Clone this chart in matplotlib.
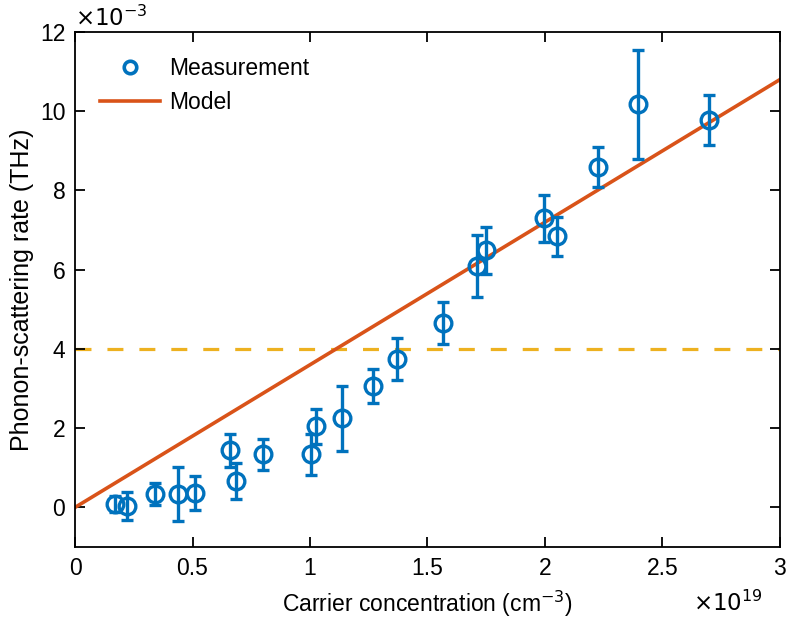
import matplotlib.pyplot as plt
from matplotlib.lines import Line2D
import numpy as np

plt.rcParams["font.family"] = ["Liberation Sans", "DejaVu Sans"]

# carrier concentration (x1e19 cm^-3), scattering rate (x1e-3 THz), error (x1e-3 THz)
conc = [0.17, 0.22, 0.34, 0.44, 0.51, 0.66, 0.685, 0.80, 1.005, 1.025, 1.135,
        1.27, 1.37, 1.565, 1.71, 1.75, 1.995, 2.05, 2.225, 2.395, 2.70]
rate = [0.08, 0.03, 0.33, 0.33, 0.36, 1.44, 0.66, 1.34, 1.34, 2.05, 2.25,
        3.06, 3.74, 4.65, 6.09, 6.49, 7.30, 6.84, 8.59, 10.17, 9.78]
err = [0.2, 0.35, 0.28, 0.68, 0.42, 0.41, 0.46, 0.39, 0.52, 0.44, 0.82,
       0.43, 0.53, 0.53, 0.78, 0.59, 0.59, 0.49, 0.5, 1.38, 0.62]

model_x = [0, 3]
model_slope = 3.6
threshold = 4

blue = "#0072BD"
orange = "#D95319"
yellow = "#EDB120"

fs = 16.5

fig = plt.figure(figsize=(7.88, 6.19), dpi=100)
ax = fig.add_axes([0.0952, 0.1163, 0.8946, 0.8320])

ax.axhline(threshold, color=yellow, lw=2.3, ls=(0, (5, 5)), zorder=1)
ax.plot(model_x, [model_slope * v for v in model_x], color=orange, lw=2.6,
        zorder=2)
ax.errorbar(conc, rate, yerr=err, fmt="o", color=blue, mfc="none", ms=12,
            mew=2.4, elinewidth=2.4, capsize=4.5, capthick=2.4, zorder=3)

ax.set_xlim(0, 3)
ax.set_ylim(-1, 12)
ax.set_xticks(np.arange(0, 3.01, 0.5))
ax.set_xticklabels(["0", "0.5", "1", "1.5", "2", "2.5", "3"])
ax.set_yticks(np.arange(0, 12.1, 2))
ax.tick_params(direction="in", top=True, right=True, labelsize=fs,
               length=7, width=1.3, pad=7)
for s in ax.spines.values():
    s.set_linewidth(1.3)

ax.set_xlabel("Carrier concentration (cm$^{-3}$)", fontsize=fs)
ax.xaxis.set_label_coords(0.5, -0.082)
ax.set_ylabel("Phonon-scattering rate (THz)", fontsize=18, labelpad=4)
ax.text(0.0, 1.003, r"$\times10^{-3}$", transform=ax.transAxes, fontsize=fs,
        ha="left", va="bottom")
ax.text(0.975, -0.124, r"$\times10^{19}$", transform=ax.transAxes, fontsize=fs,
        ha="right", va="baseline")

handles = [
    Line2D([], [], ls="none", marker="o", ms=9, mfc="none", mew=2.6, color=blue),
    Line2D([], [], color=orange, lw=2.6),
]
ax.legend(handles, ["Measurement", "Model"], loc="upper left", frameon=False,
          fontsize=fs, handlelength=2.6, handletextpad=0.4,
          borderaxespad=0.6, labelspacing=0.45, borderpad=0.5)

fig.savefig("out.png", dpi=100)
